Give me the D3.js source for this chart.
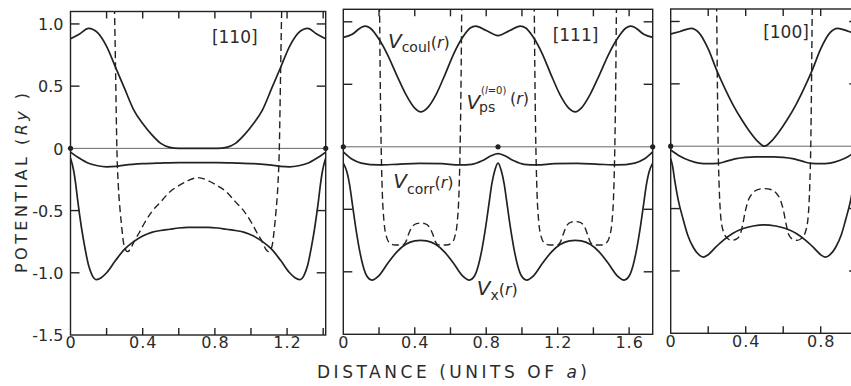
<!DOCTYPE html>
<html>
<head>
<meta charset="utf-8">
<script src="https://cdn.jsdelivr.net/npm/d3@7/dist/d3.min.js"></script>
<style>
  body { margin: 0; background: #fff; }
  svg { display: block; }
  text { font-family: "DejaVu Sans", sans-serif; fill: #2b2b2b; }
</style>
</head>
<body>
<svg id="chart" width="851" height="386"></svg>
<script>
// ---- [110] direction ----
const coul110X = [0, 0.05, 0.1, 0.15, 0.2, 0.25, 0.3, 0.35, 0.4, 0.45, 0.5, 0.55, 0.6, 0.707, 0.814, 0.864, 0.914, 0.964, 1.014, 1.064, 1.114, 1.164, 1.214, 1.264, 1.314, 1.364, 1.414];
const coul110 = [0.88, 0.92, 0.965, 0.93, 0.82, 0.65, 0.48, 0.31, 0.2, 0.11, 0.04, 0.008, 0, 0, 0, 0.008, 0.04, 0.11, 0.2, 0.31, 0.48, 0.65, 0.82, 0.93, 0.965, 0.92, 0.88];
const corr110X = [0, 0.05, 0.1, 0.15, 0.2, 0.25, 0.3, 0.4, 0.5, 0.6, 0.707, 0.814, 0.914, 1.014, 1.114, 1.164, 1.214, 1.264, 1.314, 1.364, 1.414];
const corr110 = [-0.03, -0.08, -0.12, -0.14, -0.148, -0.145, -0.135, -0.123, -0.118, -0.115, -0.115, -0.115, -0.118, -0.123, -0.135, -0.145, -0.148, -0.14, -0.12, -0.08, -0.03];
const vx110X = [0, 0.01, 0.02, 0.03, 0.04, 0.06, 0.08, 0.1, 0.12, 0.145, 0.17, 0.2, 0.25, 0.3, 0.35, 0.4, 0.45, 0.5, 0.55, 0.6, 0.65, 0.707,
  0.764, 0.814, 0.864, 0.914, 0.964, 1.014, 1.064, 1.114, 1.164, 1.214, 1.244, 1.269, 1.294, 1.314, 1.334, 1.354, 1.374, 1.384, 1.394, 1.404, 1.414];
const vx110 = [-0.08, -0.13, -0.2, -0.3, -0.42, -0.63, -0.8, -0.94, -1.02, -1.055, -1.04, -1.0, -0.9, -0.81, -0.75, -0.705, -0.675, -0.66, -0.65, -0.64, -0.635, -0.635,
  -0.635, -0.64, -0.65, -0.66, -0.675, -0.705, -0.75, -0.81, -0.9, -1.0, -1.04, -1.055, -1.02, -0.94, -0.8, -0.63, -0.42, -0.3, -0.2, -0.13, -0.08];
const ps110X = [0.236, 0.244, 0.25, 0.257, 0.265, 0.275, 0.285, 0.295, 0.305, 0.315, 0.33, 0.35, 0.38, 0.41, 0.45, 0.5, 0.55, 0.6, 0.65, 0.707,
  0.764, 0.814, 0.864, 0.914, 0.964, 1.004, 1.034, 1.064, 1.084, 1.099, 1.109, 1.119, 1.129, 1.139, 1.149, 1.157, 1.164, 1.17, 1.178];
const ps110 = [1.4, 1.1, 0.6, 0.0, -0.3, -0.5, -0.65, -0.77, -0.815, -0.83, -0.815, -0.755, -0.68, -0.6, -0.51, -0.43, -0.35, -0.3, -0.26, -0.235,
  -0.26, -0.3, -0.35, -0.43, -0.51, -0.6, -0.68, -0.755, -0.815, -0.83, -0.815, -0.77, -0.65, -0.5, -0.3, 0.0, 0.6, 1.1, 1.4];
const atoms110 = [0, 1.414];
const minor110 = [0.2, 0.4, 0.6, 0.8, 1.0, 1.2, 1.4];
const labelPos110 = [0, 0.4, 0.8, 1.2];
const labels110 = ['0', '0.4', '0.8', '1.2'];

// ---- [111] direction ----
const coul111X = [0, 0.05, 0.1, 0.124, 0.15, 0.2, 0.25, 0.3, 0.35, 0.4, 0.433, 0.47, 0.52, 0.57, 0.62, 0.67, 0.71, 0.742, 0.8, 0.866,
  0.932, 0.99, 1.022, 1.062, 1.112, 1.162, 1.212, 1.262, 1.299, 1.332, 1.382, 1.432, 1.482, 1.532, 1.582, 1.608, 1.632, 1.682, 1.732];
const coul111 = [0.875, 0.9, 0.955, 0.966, 0.95, 0.86, 0.73, 0.57, 0.42, 0.31, 0.28, 0.31, 0.42, 0.58, 0.75, 0.88, 0.95, 0.966, 0.93, 0.89,
  0.93, 0.966, 0.95, 0.88, 0.75, 0.58, 0.42, 0.31, 0.28, 0.31, 0.42, 0.57, 0.73, 0.86, 0.95, 0.966, 0.955, 0.9, 0.875];
const corr111X = [0, 0.05, 0.1, 0.2, 0.3, 0.424, 0.55, 0.65, 0.72, 0.78, 0.83, 0.866, 0.902, 0.952, 1.012, 1.082, 1.182, 1.308, 1.432, 1.532, 1.632, 1.682, 1.732];
const corr111 = [-0.04, -0.1, -0.13, -0.145, -0.14, -0.132, -0.135, -0.145, -0.14, -0.11, -0.07, -0.055, -0.07, -0.11, -0.14, -0.145, -0.135, -0.132, -0.14, -0.145, -0.13, -0.1, -0.04];
const vx111X = [0, 0.02, 0.035, 0.05, 0.07, 0.09, 0.11, 0.13, 0.16, 0.2, 0.25, 0.3, 0.35, 0.4, 0.433, 0.466, 0.516, 0.566, 0.616, 0.666, 0.706, 0.736, 0.756, 0.776, 0.796, 0.816, 0.831, 0.846, 0.866,
  0.886, 0.901, 0.916, 0.936, 0.956, 0.976, 0.996, 1.026, 1.066, 1.116, 1.166, 1.216, 1.266, 1.299, 1.332, 1.382, 1.432, 1.482, 1.532, 1.572, 1.602, 1.622, 1.642, 1.662, 1.682, 1.697, 1.712, 1.732];
const vx111 = [-0.13, -0.2, -0.3, -0.45, -0.65, -0.82, -0.95, -1.03, -1.066, -1.03, -0.93, -0.84, -0.78, -0.752, -0.748, -0.752, -0.78, -0.84, -0.93, -1.03, -1.066, -1.03, -0.95, -0.82, -0.65, -0.45, -0.3, -0.2, -0.13,
  -0.2, -0.3, -0.45, -0.65, -0.82, -0.95, -1.03, -1.066, -1.03, -0.93, -0.84, -0.78, -0.752, -0.748, -0.752, -0.78, -0.84, -0.93, -1.03, -1.066, -1.03, -0.95, -0.82, -0.65, -0.45, -0.3, -0.2, -0.13];
const psA111X = [0.198, 0.203, 0.207, 0.212, 0.218, 0.228, 0.242, 0.26, 0.29, 0.33, 0.35, 0.365, 0.385, 0.41, 0.433, 0.456, 0.481, 0.501, 0.516, 0.536, 0.576, 0.606, 0.624, 0.638, 0.648, 0.654, 0.659, 0.663, 0.668];
const psA111 = [1.4, 1.1, 0.5, 0.0, -0.35, -0.6, -0.72, -0.77, -0.786, -0.786, -0.76, -0.7, -0.64, -0.615, -0.61, -0.615, -0.64, -0.7, -0.76, -0.786, -0.786, -0.77, -0.72, -0.6, -0.35, 0.0, 0.5, 1.1, 1.4];
const psB111X = [1.064, 1.069, 1.073, 1.078, 1.084, 1.094, 1.108, 1.126, 1.156, 1.196, 1.216, 1.231, 1.251, 1.276, 1.299, 1.322, 1.347, 1.367, 1.382, 1.402, 1.442, 1.472, 1.49, 1.504, 1.514, 1.52, 1.525, 1.529, 1.534];
const psB111 = [1.4, 1.1, 0.5, 0.0, -0.35, -0.6, -0.72, -0.77, -0.786, -0.786, -0.76, -0.7, -0.63, -0.603, -0.598, -0.603, -0.63, -0.7, -0.76, -0.786, -0.786, -0.77, -0.72, -0.6, -0.35, 0.0, 0.5, 1.1, 1.4];
const atoms111 = [0, 0.866, 1.732];
const minor111 = [0.2, 0.4, 0.6, 0.8, 1.0, 1.2, 1.4, 1.6];
const labelPos111 = [0, 0.4, 0.8, 1.2, 1.6];
const labels111 = ['0', '0.4', '0.8', '1.2', '1.6'];

// ---- [100] direction ----
const coul100X = [0, 0.05, 0.11, 0.15, 0.2, 0.245, 0.29, 0.333, 0.38, 0.42, 0.46, 0.5, 0.54, 0.58, 0.62, 0.667, 0.71, 0.755, 0.8, 0.85, 0.89, 0.95, 1.0];
const coul100 = [0.9, 0.92, 0.945, 0.91, 0.78, 0.61, 0.46, 0.33, 0.21, 0.12, 0.045, 0.0, 0.045, 0.12, 0.21, 0.33, 0.46, 0.61, 0.78, 0.91, 0.945, 0.92, 0.9];
const corr100X = [0, 0.05, 0.1, 0.15, 0.2, 0.25, 0.3, 0.35, 0.4, 0.45, 0.5, 0.55, 0.6, 0.65, 0.7, 0.75, 0.8, 0.85, 0.9, 0.95, 1.0];
const corr100 = [-0.03, -0.08, -0.115, -0.135, -0.14, -0.138, -0.12, -0.1, -0.09, -0.085, -0.085, -0.085, -0.09, -0.1, -0.12, -0.138, -0.14, -0.135, -0.115, -0.08, -0.03];
const vx100X = [0, 0.01, 0.022, 0.04, 0.067, 0.09, 0.12, 0.15, 0.173, 0.2, 0.24, 0.28, 0.33, 0.387, 0.44, 0.5, 0.56, 0.613, 0.67, 0.72, 0.76, 0.8, 0.827, 0.85, 0.88, 0.91, 0.933, 0.96, 0.978, 0.99, 1.0];
const vx100 = [-0.1, -0.16, -0.28, -0.43, -0.59, -0.71, -0.81, -0.87, -0.89, -0.87, -0.81, -0.755, -0.7, -0.66, -0.64, -0.63, -0.64, -0.66, -0.7, -0.755, -0.81, -0.87, -0.89, -0.87, -0.81, -0.71, -0.59, -0.43, -0.28, -0.16, -0.1];
const ps100X = [0.24, 0.245, 0.249, 0.253, 0.258, 0.266, 0.28, 0.3, 0.325, 0.35, 0.37, 0.385, 0.398, 0.415, 0.435, 0.46, 0.5, 0.54, 0.565, 0.585, 0.602, 0.615, 0.63, 0.65, 0.675, 0.7, 0.72, 0.734, 0.742, 0.747, 0.751, 0.755, 0.76];
const ps100 = [1.4, 1.1, 0.5, 0.0, -0.3, -0.55, -0.68, -0.735, -0.755, -0.745, -0.71, -0.62, -0.52, -0.43, -0.38, -0.35, -0.34, -0.35, -0.38, -0.43, -0.52, -0.62, -0.71, -0.745, -0.755, -0.735, -0.68, -0.55, -0.3, 0.0, 0.5, 1.1, 1.4];
const atoms100 = [0, 1.0];
const minor100 = [0.2, 0.4, 0.6, 0.8];
const labelPos100 = [0, 0.4, 0.8];
const labels100 = ['0', '0.4', '0.8'];

// shared y axis
const yMinor = [1.0, 0.5, -0.5, -1.0];
const yLabelPos = [1.0, 0.5, 0, -0.5, -1.0, -1.5];
const yLabels = ['1.0', '0.5', '0', '-0.5', '-1.0', '-1.5'];

const svg = d3.select('#chart');
const ink = '#222';

const panels = [
  { id: 'p110', name: '[110]', len: 1.414, x0: 70.5, x1: 325.7, top: 11.5, bottom: 335, nameAt: [0.91, 0.85],
    solid: [[coul110X, coul110], [corr110X, corr110], [vx110X, vx110]], dashed: [[ps110X, ps110]],
    atoms: atoms110, minor: minor110, labelPos: labelPos110, labels: labels110, yLabels: true },
  { id: 'p111', name: '[111]', len: 1.732, x0: 343.3, x1: 652.7, top: 9.3, bottom: 334.3, nameAt: [1.3, 0.85],
    solid: [[coul111X, coul111], [corr111X, corr111], [vx111X, vx111]], dashed: [[psA111X, psA111], [psB111X, psB111]],
    atoms: atoms111, minor: minor111, labelPos: labelPos111, labels: labels111 },
  { id: 'p100', name: '[100]', len: 1.0, x0: 670.7, x1: 858.2, top: 9.0, bottom: 333.3, nameAt: [0.615, 0.87],
    solid: [[coul100X, coul100], [corr100X, corr100], [vx100X, vx100]], dashed: [[ps100X, ps100]],
    atoms: atoms100, minor: minor100, labelPos: labelPos100, labels: labels100 }
];

const xTickLen = 7, yTickLen = 9;

panels.forEach(p => {
  const x = d3.scaleLinear().domain([0, p.len]).range([p.x0, p.x1]);
  const y = d3.scaleLinear().domain([-1.5, 1.1]).range([p.bottom, p.top]);
  p.x = x; p.y = y;

  const g = svg.append('g').attr('class', p.id);

  g.append('clipPath').attr('id', 'clip-' + p.id)
    .append('rect')
    .attr('x', p.x0).attr('y', p.top)
    .attr('width', p.x1 - p.x0).attr('height', p.bottom - p.top);

  // zero line and atom dots
  g.append('line')
    .attr('x1', p.x0).attr('x2', p.x1)
    .attr('y1', y(0)).attr('y2', y(0))
    .attr('stroke', '#555').attr('stroke-width', 0.9);
  g.selectAll('circle.atom').data(p.atoms).enter()
    .append('circle').attr('class', 'atom')
    .attr('cx', d => x(d)).attr('cy', y(0)).attr('r', 2.6)
    .attr('fill', ink);

  const line = d3.line()
    .x(d => x(d[0])).y(d => y(d[1]))
    .curve(d3.curveMonotoneX);

  const curves = g.append('g').attr('clip-path', `url(#clip-${p.id})`);
  p.solid.forEach(s => {
    curves.append('path')
      .datum(d3.zip(s[0], s[1]))
      .attr('d', line)
      .attr('fill', 'none').attr('stroke', ink)
      .attr('stroke-width', 1.7).attr('stroke-linejoin', 'round');
  });
  p.dashed.forEach(s => {
    curves.append('path')
      .datum(d3.zip(s[0], s[1]))
      .attr('d', line)
      .attr('fill', 'none').attr('stroke', ink)
      .attr('stroke-width', 1.4).attr('stroke-dasharray', '7,4');
  });

  // frame
  g.append('rect')
    .attr('x', p.x0).attr('y', p.top)
    .attr('width', p.x1 - p.x0).attr('height', p.bottom - p.top)
    .attr('fill', 'none').attr('stroke', ink).attr('stroke-width', 1.4);

  // inward ticks on all four sides
  const ticks = g.append('g').attr('stroke', ink).attr('stroke-width', 1.4);
  ticks.selectAll('line.xb').data(p.minor).enter().append('line').attr('class', 'xb')
    .attr('x1', d => x(d)).attr('x2', d => x(d))
    .attr('y1', p.bottom).attr('y2', p.bottom - xTickLen);
  ticks.selectAll('line.xt').data(p.minor).enter().append('line').attr('class', 'xt')
    .attr('x1', d => x(d)).attr('x2', d => x(d))
    .attr('y1', p.top).attr('y2', p.top + xTickLen);
  ticks.selectAll('line.yl').data(yMinor).enter().append('line').attr('class', 'yl')
    .attr('x1', p.x0).attr('x2', p.x0 + yTickLen)
    .attr('y1', d => y(d)).attr('y2', d => y(d));
  ticks.selectAll('line.yr').data(yMinor).enter().append('line').attr('class', 'yr')
    .attr('x1', p.x1).attr('x2', p.x1 - yTickLen)
    .attr('y1', d => y(d)).attr('y2', d => y(d));

  // x tick labels
  const xl = g.append('g').attr('transform', `translate(0,${p.bottom})`)
    .call(d3.axisBottom(x).tickValues(p.labelPos).tickSize(0).tickPadding(2)
      .tickFormat((d, i) => p.labels[i]));
  xl.select('.domain').remove();
  xl.selectAll('text').attr('font-size', 16).attr('font-family', '"DejaVu Sans", sans-serif')
    .attr('fill', ink).attr('letter-spacing', 1);

  if (p.yLabels) {
    const yl = g.append('g').attr('transform', `translate(${p.x0},0)`)
      .call(d3.axisLeft(y).tickValues(yLabelPos).tickSize(0).tickPadding(7)
        .tickFormat((d, i) => yLabels[i]));
    yl.select('.domain').remove();
    yl.selectAll('text').attr('font-size', 16).attr('font-family', '"DejaVu Sans", sans-serif')
      .attr('fill', ink).attr('dy', '0.36em');
  }

  // direction label
  g.append('text')
    .attr('x', x(p.nameAt[0])).attr('y', y(p.nameAt[1]))
    .attr('text-anchor', 'middle').attr('font-size', 17)
    .attr('font-family', '"Liberation Sans", sans-serif')
    .text(p.name);
});

// curve labels in the [111] panel
const p2 = panels[1];
function mathLabel(px, py, sub, subDy) {
  const t = svg.append('text').attr('x', p2.x(px)).attr('y', p2.y(py)).attr('font-size', 20);
  t.append('tspan').attr('font-style', 'italic').text('V');
  t.append('tspan').attr('font-size', 14).attr('dy', subDy).text(sub);
  t.append('tspan').attr('font-size', 16).attr('dy', -subDy).text('(');
  t.append('tspan').attr('font-size', 16).attr('font-style', 'italic').text('r');
  t.append('tspan').attr('font-size', 16).text(')');
  return t;
}
mathLabel(0.25, 0.79, 'coul', 4);
mathLabel(0.28, -0.33, 'corr', 6);
mathLabel(0.747, -1.186, 'x', 5);

// V_ps with stacked super/subscript
svg.append('text').attr('x', p2.x(0.69)).attr('y', p2.y(0.3)).attr('font-size', 20)
  .attr('font-style', 'italic').text('V');
svg.append('text').attr('x', 479).attr('y', p2.y(0.278)).attr('font-size', 14).text('ps');
const supT = svg.append('text').attr('x', 481).attr('y', p2.y(0.42)).attr('font-size', 10);
supT.append('tspan').text('(');
supT.append('tspan').attr('font-style', 'italic').text('l');
supT.append('tspan').text('=0)');
const rT = svg.append('text').attr('x', 510).attr('y', p2.y(0.34)).attr('font-size', 16);
rT.append('tspan').text('(');
rT.append('tspan').attr('font-style', 'italic').text('r');
rT.append('tspan').text(')');

// axis titles
const xt = svg.append('text')
  .attr('x', 317).attr('y', 378)
  .attr('font-size', 17).attr('textLength', 270).attr('lengthAdjust', 'spacing');
xt.append('tspan').text('DISTANCE  (UNITS OF ');
xt.append('tspan').attr('font-style', 'italic').text('a');
xt.append('tspan').text(')');

const yt = svg.append('text')
  .attr('transform', 'translate(27,273) rotate(-90)')
  .attr('font-size', 16).attr('textLength', 180).attr('lengthAdjust', 'spacing');
yt.append('tspan').text('POTENTIAL (');
yt.append('tspan').attr('font-style', 'italic').text('Ry');
yt.append('tspan').text(' )');
</script>
</body>
</html>
